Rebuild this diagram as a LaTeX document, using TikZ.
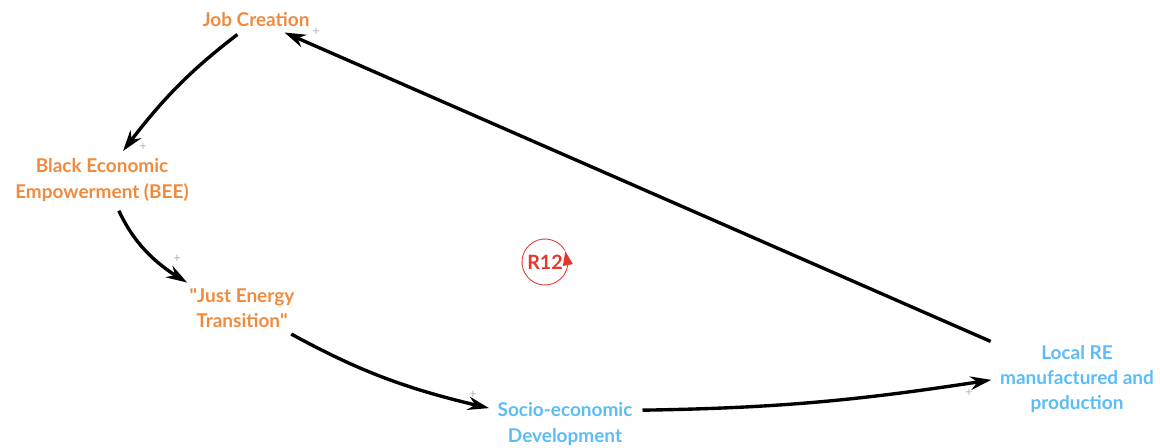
\documentclass[tikz,border=0pt]{standalone}
\usepackage{fontspec}
\setmainfont{Lato}
\usetikzlibrary{arrows.meta,positioning,bending}
\definecolor{varorange}{HTML}{F08A3C}
\definecolor{varblue}{HTML}{5CBCF4}
\definecolor{loopred}{HTML}{E5372C}
\definecolor{signgray}{HTML}{B4B4B4}

\begin{document}
\begin{tikzpicture}[x=0.025cm,y=-0.025cm,font=\fontsize{13.5}{18}\selectfont\bfseries,>=Stealth,
 var/.style={align=center,inner sep=2pt},
 soc/.style={var,text=varorange},
 eco/.style={var,text=varblue},
 link/.style={line width=2.4pt,shorten <=5pt,shorten >=4pt,-{Stealth[length=15pt,width=9.5pt]}},
 sign/.style={text=signgray,font=\fontsize{9}{9}\selectfont,inner sep=0pt}]
\useasboundingbox (0,0) rectangle (1160,448);
\node[soc] (jobs) at (256,20) {Job Creation};
\node[soc] (bee) at (102,180) {Black Economic\\Empowerment (BEE)};
\node[soc] (jet) at (242,308) {\textquotedbl Just Energy\\Transition\textquotedbl};
\node[eco] (socio) at (565,424) {Socio-economic\\Development};
\node[eco] (local) at (1077,379) {Local RE\\manufactured and\\production};
% loop marker
\node[text=loopred,font=\fontsize{14}{14}\selectfont\bfseries] (r12) at (545,262) {R12};
\draw[loopred,line width=0.6pt,-{Triangle[length=10pt,width=7pt,flex]}] (r12.center) ++(-30:23) arc[start angle=-30,end angle=-388,radius=23];
% links
\draw[link] (jobs) to[bend right=8] (bee);
\draw[link] (bee) to[bend right=18] (jet);
\draw[link] (jet) to[bend right=8] (socio);
\draw[link] (socio.11) to[bend right=4] (local.west);
\draw[link] (local) -- (jobs);
% polarities
\node[sign] (s1) at (316,32) {+};
\node[sign] (s2) at (143,147) {+};
\node[sign] (s3) at (177,259) {+};
\node[sign] (s4) at (473,395) {+};
\node[sign] (s5) at (969,393) {+};
\end{tikzpicture}
\end{document}
